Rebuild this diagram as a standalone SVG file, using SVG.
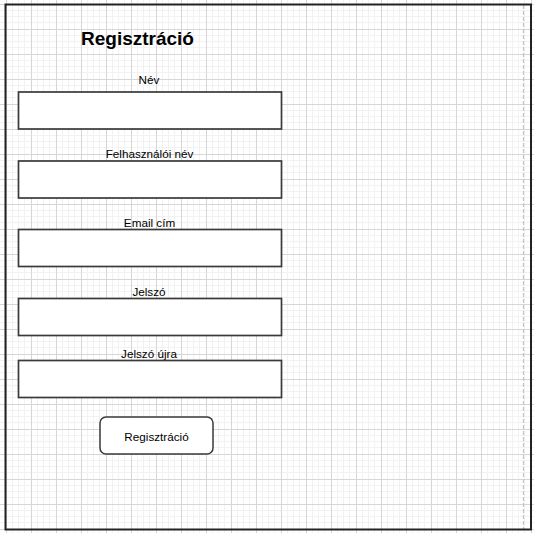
<svg xmlns="http://www.w3.org/2000/svg" width="534" height="533" viewBox="0 0 534 533">
  <style>
    .lbl { font-family: "Liberation Sans", Arial, sans-serif; font-size: 11.7px; fill: #000; text-anchor: middle; }
    .title { font-family: "Liberation Sans", Arial, sans-serif; font-size: 19px; font-weight: bold; fill: #000; text-anchor: middle; }
    .field { fill: #fff; stroke: #3a3a3a; stroke-width: 1.7; }
    .btn { fill: #fff; stroke: #3a3a3a; stroke-width: 1.5; }
  </style>
  <defs>
    <pattern id="grid" x="6" y="4" width="25" height="25" patternUnits="userSpaceOnUse">
      <path d="M6.5 0V25M12.5 0V25M18.5 0V25M0 6.5H25M0 12.5H25M0 18.5H25" stroke="#f2f2f2" stroke-width="1" fill="none"/>
      <path d="M0.5 0V25M0 0.5H25" stroke="#d6d6d6" stroke-width="1" fill="none"/>
    </pattern>
  </defs>
  <rect x="0" y="0" width="534" height="533" fill="#fff"/>
  <rect x="0" y="0" width="534" height="533" fill="url(#grid)"/>
  <g id="frame">
    <line x1="523.5" y1="5" x2="523.5" y2="529" stroke="#c4c4c4" stroke-width="1.2" stroke-dasharray="4,2"/>
    <rect x="5.5" y="4.5" width="525.5" height="525" fill="none" stroke="#222" stroke-width="2"/>
  </g>
  <g id="title">
    <text class="title" x="137.5" y="45">Regisztráció</text>
  </g>
  <g id="field-nev">
    <text class="lbl" x="149" y="84">Név</text>
    <rect class="field" x="18.5" y="92" width="263" height="37"/>
  </g>
  <g id="field-felhasznalonev">
    <text class="lbl" x="149.5" y="158">Felhasználói név</text>
    <rect class="field" x="18.5" y="161" width="263" height="37"/>
  </g>
  <g id="field-email">
    <text class="lbl" x="149.5" y="227">Email cím</text>
    <rect class="field" x="18.5" y="229.5" width="263" height="37"/>
  </g>
  <g id="field-jelszo">
    <text class="lbl" x="149" y="296">Jelszó</text>
    <rect class="field" x="18.5" y="298.5" width="263" height="37"/>
  </g>
  <g id="field-jelszo-ujra">
    <text class="lbl" x="149" y="357.5">Jelszó újra</text>
    <rect class="field" x="18.5" y="360.5" width="263" height="37"/>
  </g>
  <g id="button-regisztracio">
    <rect class="btn" x="100" y="417" width="113" height="37" rx="6" ry="6"/>
    <text class="lbl" x="156.5" y="441">Regisztráció</text>
  </g>
  <g id="connectors"></g>
</svg>
